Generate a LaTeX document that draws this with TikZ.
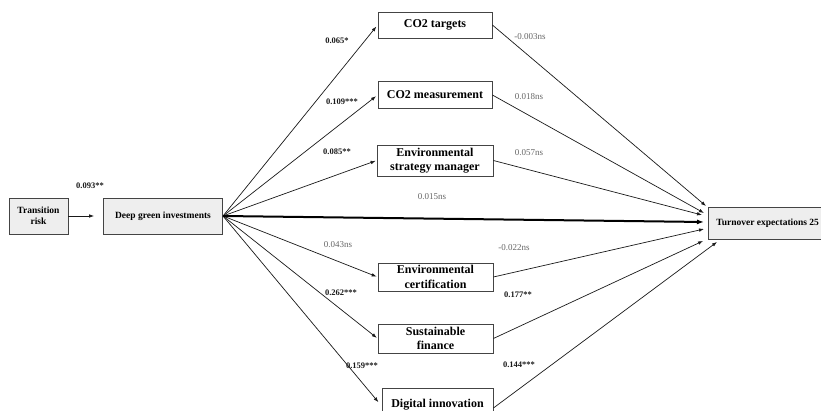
\documentclass[tikz,border=0pt]{standalone}
\usepackage{fontspec}
\setmainfont{Liberation Serif}
\usetikzlibrary{arrows.meta}
\definecolor{boxgrey}{HTML}{EEEEEE}
\definecolor{edgegrey}{HTML}{444444}
\definecolor{lblgrey}{HTML}{666666}
\definecolor{lbldark}{HTML}{1A1A1A}
\tikzset{
  midbox/.style={draw=edgegrey, line width=0.8pt, fill=white, align=center, inner sep=0pt,
    font=\fontsize{12}{14.5}\selectfont\bfseries},
  smallbox/.style={draw=edgegrey, line width=0.8pt, fill=boxgrey, align=center, inner sep=0pt,
    font=\fontsize{9.5}{11}\selectfont\bfseries},
  arr/.style={draw=black!90, line width=0.7pt, -{Latex[length=5pt,width=3.6pt]}},
  thickarr/.style={draw=black, line width=2pt, -{Latex[length=7pt,width=5pt]}},
  sig/.style={font=\fontsize{8.5}{10}\selectfont\bfseries, text=lbldark, inner sep=0pt},
  ns/.style={font=\fontsize{9}{10}\selectfont, text=lblgrey, inner sep=0pt}
}
\begin{document}
\begin{tikzpicture}[x=1pt,y=-1pt]
\useasboundingbox (0,0) rectangle (821,411);
% boxes
\node[smallbox, minimum width=59, minimum height=36] (tr) at (38.5,216) {Transition\\risk};
\node[smallbox, minimum width=119, minimum height=36] (dg) at (163,216) {Deep green investments};
\node[midbox, minimum width=114, minimum height=26] (co2t) at (435,25) {CO2 targets};
\node[midbox, minimum width=114, minimum height=27] (co2m) at (435,95) {CO2 measurement};
\node[midbox, minimum width=116, minimum height=31] (esm) at (435,160.5) {Environmental\\strategy manager};
\node[midbox, minimum width=115, minimum height=28] (ec) at (435.5,277) {Environmental\\certification};
\node[midbox, minimum width=115, minimum height=29] (sf) at (435.5,338.5) {Sustainable\\finance};
\node[midbox, minimum width=111, minimum height=34, text depth=0pt] (di) at (437.5,405) {\raisebox{4pt}{Digital innovation}};
\node[smallbox, anchor=west, minimum height=32, inner xsep=8pt] (to) at (708,223) {Turnover expectations 25};
% endpoints near outcome
\coordinate (t1) at (706,206);
\coordinate (t2) at (704,213);
\coordinate (t3) at (702,215);
\coordinate (t4) at (704,222);
\coordinate (t5) at (704,229);
\coordinate (t6) at (703,241);
\coordinate (t7) at (717,242);
\coordinate (o) at (223,216);
% left arrows
\draw[arr, shorten >=9pt] (tr.east) -- (dg.west);
\draw[arr, shorten >=2pt] (o) -- (co2t.west);
\draw[arr, shorten >=2pt] (o) -- (co2m.west);
\draw[arr, shorten >=1pt] (o) -- (esm.west);
\draw[arr, shorten >=1pt] (o) -- (ec.west);
\draw[arr, shorten >=1pt] (o) -- (sf.west);
\draw[arr, shorten >=5pt] (o) -- ([yshift=-1pt]di.west);
\draw[thickarr] (o) -- (t4);
% right arrows
\draw[arr] (co2t.east) -- (t1);
\draw[arr] (co2m.east) -- (t2);
\draw[arr] (esm.east) -- (t3);
\draw[arr] (ec.east) -- (t5);
\draw[arr] (sf.east) -- (t6);
\draw[arr] ([yshift=-3pt]di.east) -- (t7);
% labels
\node[sig] (l0) at (90,186) {0.093**};
\node[sig] (l1) at (337,41) {0.065*};
\node[sig] (l2) at (342,102) {0.109***};
\node[sig] (l3) at (337,152) {0.085**};
\node[ns]  (l4) at (338,245) {0.043ns};
\node[sig] (l5) at (341,293) {0.262***};
\node[sig] (l6) at (362,366) {0.159***};
\node[ns]  (r1) at (530,37) {-0.003ns};
\node[ns]  (r2) at (529,97) {0.018ns};
\node[ns]  (r3) at (529,153) {0.057ns};
\node[ns]  (m1) at (432,197) {0.015ns};
\node[ns]  (r4) at (514,248) {-0.022ns};
\node[sig] (r5) at (518,295) {0.177**};
\node[sig] (r6) at (519,365) {0.144***};
\end{tikzpicture}
\end{document}
